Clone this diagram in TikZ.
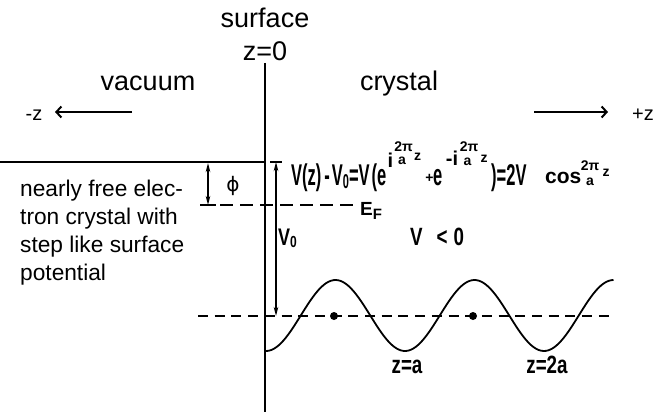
\documentclass[tikz,border=0pt]{standalone}
\usepackage{fontspec}
\setmainfont{Liberation Sans}
\newfontfamily\hand[FakeStretch=0.75]{Liberation Sans}
\newfontfamily\eqf[FakeStretch=0.55]{Liberation Sans}
\newfontfamily\dvs{DejaVu Sans}
\usetikzlibrary{arrows.meta}
\newcommand\fsz[1]{\fontsize{#1}{#1}\selectfont}
\begin{document}
\begin{tikzpicture}[x=1pt,y=-1pt,
  lbl/.style={inner sep=0pt,anchor=base},
  toplbl/.style={lbl,font=\fsz{27}},
  side/.style={lbl,anchor=base west,font=\fsz{22.7}},
  hw/.style={lbl,font=\hand\bfseries\fsz{#1}},
  eqp/.style={inner sep=0pt,anchor=base west,font=\eqf\bfseries\fsz{30}},
  sup/.style={inner sep=0pt,anchor=center,font=\bfseries\fsz{#1}},
  twopi/.style={inner sep=0pt,anchor=center,font=\bfseries\fsz{14}},
  surfline/.style={line width=2.4pt},
  levelline/.style={line width=2pt},
  dashA/.style={line width=2pt,dash pattern=on 13pt off 7pt},
  dashB/.style={line width=2pt,dash pattern=on 10pt off 6.7pt},
  dirarrow/.style={line width=2pt,-{Straight Barb[length=5pt,width=11pt,line width=2pt]}},
  dblarrow/.style={line width=1.6pt,{Stealth[length=9pt,width=4.5pt]}-{Stealth[length=9pt,width=4.5pt]}},
  barline/.style={line width=1.6pt},
  wave/.style={line width=1.8pt},
]
\useasboundingbox[fill=white] (0,0) rectangle (653,412);

% lines
\coordinate (stop) at (265,63);
\coordinate (sbot) at (265,412);
\draw[surfline] (stop) -- (sbot);
\coordinate (vl) at (0,162);
\coordinate (vr) at (265,162);
\draw[levelline] (vl) -- (vr);
\coordinate (efl) at (200,205);
\coordinate (efr) at (357,205);
\draw[dashA] (efl) -- (efr);
\coordinate (ml) at (198,316);
\coordinate (mr) at (613,316);
\draw[dashB] (ml) -- (mr);

% phi arrow
\coordinate (pa) at (208,163);
\coordinate (pb) at (208,205);
\draw[dblarrow] (pa) -- (pb);
\draw[barline] (201,205) -- (216,205);
% V0 arrow
\coordinate (va) at (276,162);
\coordinate (vb) at (276,316);
\draw[dblarrow] (va) -- (vb);
\draw[barline] (270,162) -- (282,162);

% wave
\draw[wave] plot[domain=266:613.5,samples=140,smooth] (\x,{315.5+35.5*cos(2.58993*(\x-266))});
\fill (334,316) circle (4);
\fill (473,316) circle (4);

% direction arrows
\coordinate (la) at (132,112);
\coordinate (lb) at (55,112);
\draw[dirarrow] (la) -- (lb);
\coordinate (ra) at (534,112);
\coordinate (rb) at (608,112);
\draw[dirarrow] (ra) -- (rb);

% labels
\node[toplbl] (surf) at (265,28) {surface};
\node[toplbl] (z0) at (265,60) {z=0};
\node[toplbl] (vac) at (148,90) {vacuum};
\node[toplbl] (cry) at (399,90) {crystal};
\node[lbl,font=\fsz{20}] (mz) at (34,120) {-z};
\node[lbl,font=\fsz{20}] (pz) at (643,120) {+z};

\node[side] (t1) at (20,196) {nearly free elec-};
\node[side] (t2) at (20,224) {tron crystal with};
\node[side] (t3) at (20,252) {step like surface};
\node[side] (t4) at (20,280) {potential};

\node[lbl,font=\dvs\fsz{20}] (phi) at (233,191) {ϕ};
\node[lbl,anchor=base west,font=\bfseries\fsz{19}] (ef) at (360,215) {E\raisebox{-4pt}{\fsz{15}F}};
\node[hw=24,anchor=base west] (v0) at (278,245) {V\raisebox{-2pt}{\fsz{16}0}};
\node[hw=25,anchor=base west] (vlt) at (410,245) {V\hspace{14pt}<\hspace{6pt}0};
\node[hw=25] (za) at (407,373) {z=a};
\node[hw=25] (z2a) at (547,373) {z=2a};

% equation
\node[eqp] (eqa) at (291,185) {V(z)\hspace{3pt}-\hspace{2pt}V\raisebox{-3pt}{\fsz{20}0}=V\hspace{2pt}(e};
\node[sup=20] (ia) at (390.5,160) {i};
\node[twopi] (pia) at (403.5,146.5) {2π};
\node[sup=14] (aa) at (402,161) {a};
\node[sup=14] (za1) at (417.5,157) {z};
\node[sup=14] (plus) at (429.5,178) {+};
\node[eqp] (eqb) at (433,185) {e};
\node[sup=20] (ib) at (452,158) {-i};
\node[twopi] (pib) at (469,147) {2π};
\node[sup=14] (ab) at (467.5,162) {a};
\node[sup=14] (zb1) at (484,158.5) {z};
\node[eqp] (eqc) at (491,185) {)=2V};
\node[lbl,anchor=base west,font=\bfseries\fsz{21}] (cos) at (545,183) {cos};
\node[twopi] (pic) at (590,166) {2π};
\node[sup=14] (ac) at (590,182) {a};
\node[sup=14] (zc) at (606,172.5) {z};
\end{tikzpicture}
\end{document}
